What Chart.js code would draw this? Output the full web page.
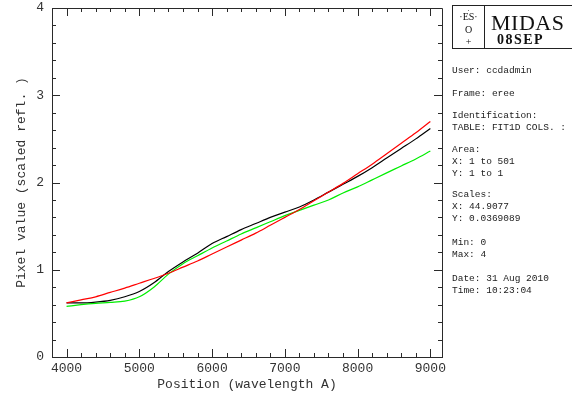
<!DOCTYPE html>
<html lang="en">
<head>
    <meta charset="UTF-8">
    <title>MIDAS FIT1D plot</title>
    <script src="https://cdn.jsdelivr.net/npm/chart.js"></script>
    <style>
        body { margin: 0; background: white; }
        .wrap { position: relative; width: 572px; height: 396px; overflow: hidden; }
        #plot { position: absolute; left: 0; top: 0; }
        .logo-box {
            position: absolute; left: 452px; top: 5px; width: 130px; height: 44px;
            border: 1px solid #222; box-sizing: border-box;
        }
        .logo-div { position: absolute; left: 31px; top: 0; width: 1px; height: 43px; background: #222; }
        .eso { position: absolute; left: 0; width: 31px; text-align: center; font-family: "Liberation Serif", serif; color: #111; line-height: 1; }
        .midas { position: absolute; left: 38px; top: 4px; font-family: "Liberation Serif", serif; font-size: 22px; letter-spacing: 0.5px; color: #111; }
        .sep { position: absolute; left: 44px; top: 26px; font-family: "Liberation Serif", serif; font-size: 14px; font-weight: bold; letter-spacing: 1.5px; color: #111; }
        .info { position: absolute; left: 452px; font-family: "Liberation Mono", monospace; font-size: 9.5px; color: #222; white-space: pre; line-height: 12px; }
    </style>
</head>
<body>
<div class="wrap">
    <canvas id="plot" width="572" height="396"></canvas>
    <div class="logo-box">
        <div class="logo-div"></div>
        <div class="eso" style="top:1px;font-size:8px;">·</div>
        <div class="eso" style="top:6px;font-size:10px;">·ES·</div>
        <div class="eso" style="top:19px;font-size:10px;">O</div>
        <div class="eso" style="top:31px;font-size:10px;">+</div>
        <div class="midas">MIDAS</div>
        <div class="sep">08SEP</div>
    </div>
    <div class="info" style="top:65px;">User: ccdadmin</div>
    <div class="info" style="top:88px;">Frame: eree</div>
    <div class="info" style="top:110px;">Identification:
TABLE: FIT1D COLS. :</div>
    <div class="info" style="top:144px;">Area:
X: 1 to 501
Y: 1 to 1</div>
    <div class="info" style="top:189px;">Scales:
X: 44.9077
Y: 0.0369089</div>
    <div class="info" style="top:237px;">Min: 0
Max: 4</div>
    <div class="info" style="top:273px;">Date: 31 Aug 2010
Time: 10:23:04</div>
</div>

<script>
    // wavelength grid (A)
    const waves = [4000, 4200, 4400, 4600, 4800, 5000, 5200, 5400, 5600, 5800, 6000, 6200, 6400,
                   6600, 6800, 7000, 7200, 7400, 7600, 7800, 8000, 8200, 8400, 8600, 8800, 9000];
    const blackVals = [0.62, 0.62, 0.63, 0.65, 0.69, 0.75, 0.85, 0.98, 1.09, 1.19, 1.30, 1.38, 1.46,
                       1.53, 1.60, 1.66, 1.72, 1.80, 1.89, 1.98, 2.07, 2.17, 2.28, 2.39, 2.50, 2.62];
    const greenVals = [0.58, 0.60, 0.615, 0.625, 0.64, 0.69, 0.80, 0.95, 1.07, 1.16, 1.25, 1.33, 1.41,
                       1.48, 1.55, 1.62, 1.68, 1.74, 1.80, 1.88, 1.95, 2.03, 2.11, 2.19, 2.27, 2.36];
    const redVals = [0.62, 0.655, 0.69, 0.74, 0.79, 0.845, 0.90, 0.96, 1.03, 1.10, 1.18, 1.26, 1.34,
                     1.42, 1.51, 1.60, 1.69, 1.79, 1.89, 1.99, 2.10, 2.21, 2.33, 2.45, 2.57, 2.70];
    const xTicks = [4000, 5000, 6000, 7000, 8000, 9000];
    const yTicks = [0, 1, 2, 3, 4];

    const frameColor = '#2a2a2a';
    const textColor = '#333';
    const axisFont = { family: 'Liberation Mono', size: 13 };

    function pts(vals) {
        return waves.map((w, i) => ({ x: w, y: vals[i] }));
    }

    // inward tick marks on all four sides + top/right frame
    const frameTicks = {
        id: 'frameTicks',
        afterDraw(chart) {
            const ctx = chart.ctx;
            const a = chart.chartArea;
            const xs = chart.scales.x, ys = chart.scales.y;
            ctx.save();
            ctx.strokeStyle = frameColor;
            ctx.lineWidth = 1;
            ctx.beginPath();
            ctx.moveTo(a.left, a.top + 0.5);
            ctx.lineTo(a.right + 0.5, a.top + 0.5);
            ctx.lineTo(a.right + 0.5, a.bottom);
            for (let v = 4000; v <= 9000; v += 200) {
                const px = Math.round(xs.getPixelForValue(v)) + 0.5;
                const len = v % 1000 === 0 ? 8 : 4;
                ctx.moveTo(px, a.bottom); ctx.lineTo(px, a.bottom - len);
                ctx.moveTo(px, a.top); ctx.lineTo(px, a.top + len);
            }
            for (let i = 0; i <= 20; i++) {
                const py = Math.round(ys.getPixelForValue(i * 0.2)) + 0.5;
                const len = i % 5 === 0 ? 8 : 4;
                ctx.moveTo(a.left, py); ctx.lineTo(a.left + len, py);
                ctx.moveTo(a.right, py); ctx.lineTo(a.right - len, py);
            }
            ctx.stroke();
            ctx.restore();
        }
    };

    new Chart(document.getElementById('plot'), {
        type: 'line',
        data: {
            datasets: [
                { label: 'fit', data: pts(redVals), borderColor: '#ff0000' },
                { label: 'fit2', data: pts(greenVals), borderColor: '#00ee00' },
                { label: 'data', data: pts(blackVals), borderColor: '#000000' }
            ]
        },
        options: {
            responsive: false,
            animation: false,
            layout: { padding: { top: 8, right: 130, left: 0, bottom: 0 } },
            elements: {
                point: { radius: 0 },
                line: { borderWidth: 1.2, cubicInterpolationMode: 'monotone', fill: false }
            },
            plugins: { legend: { display: false }, tooltip: { enabled: false } },
            scales: {
                x: {
                    type: 'linear',
                    min: 3800,
                    max: 9160,
                    afterBuildTicks: s => { s.ticks = xTicks.map(v => ({ value: v })); },
                    afterFit: s => { s.height = 39; s.paddingLeft = 0; s.paddingRight = 0; },
                    grid: { display: false, drawTicks: false },
                    border: { display: true, color: frameColor, width: 1 },
                    ticks: { font: axisFont, color: textColor, padding: 4, maxRotation: 0, callback: v => String(v) },
                    title: { display: true, text: 'Position (wavelength A)', font: axisFont, color: textColor, padding: { top: 0, bottom: 4 } }
                },
                y: {
                    min: 0,
                    max: 4,
                    afterBuildTicks: s => { s.ticks = yTicks.map(v => ({ value: v })); },
                    afterFit: s => { s.width = 52; s.paddingTop = 0; s.paddingBottom = 0; },
                    grid: { display: false, drawTicks: false },
                    border: { display: true, color: frameColor, width: 1 },
                    ticks: { font: axisFont, color: textColor, padding: 8, callback: v => String(v) },
                    title: { display: true, text: 'Pixel value (scaled refl. )', font: axisFont, color: textColor, padding: { top: 14, bottom: 0 } }
                }
            }
        },
        plugins: [frameTicks]
    });
</script>
</body>
</html>
